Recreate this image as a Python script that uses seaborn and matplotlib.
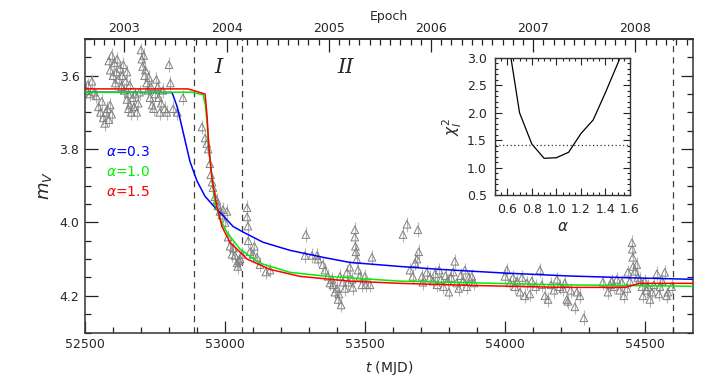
import numpy as np
import pandas as pd
import matplotlib
matplotlib.use('Agg')
import matplotlib.pyplot as plt
import seaborn as sns
from matplotlib.ticker import MultipleLocator, FixedLocator

# ---------------- data ----------------
obs_mjd = [
    52505, 52510, 52518, 52525, 52533, 52540,
    52548, 52555, 52560, 52565, 52570, 52575, 52580, 52585, 52590, 52595,
    52585, 52590, 52595, 52600, 52605, 52608, 52612, 52615, 52620, 52625, 52630, 52633, 52637, 52640, 52645, 52650, 52655, 52660,
    52650, 52655, 52660, 52665, 52670, 52675, 52680, 52685, 52690, 52695,
    52700, 52703, 52706, 52710, 52713, 52716, 52720, 52724, 52728, 52732, 52736, 52740,
    52745, 52750, 52755, 52760, 52763, 52767, 52772, 52778, 52785, 52792, 52800, 52805, 52815, 52830, 52850,
    52918, 52929, 52935, 52940, 52946, 52949, 52954, 52957, 52964, 52971, 52975, 52982, 52989, 52993, 53000, 53007,
    53011, 53018, 53025, 53030, 53036, 53043, 53046, 53050, 53054, 53061, 53079, 53079, 53082, 53083, 53089, 53100,
    53105, 53114, 53125, 53146, 53161,
    53289, 53286, 53311, 53329, 53332, 53350, 53357, 53368, 53375, 53382, 53386, 53393, 53400, 53404, 53407, 53411,
    53415, 53421, 53428, 53436, 53440, 53446, 53454, 53457, 53464, 53464, 53466, 53468, 53471, 53475, 53482, 53489,
    53500, 53503, 53525, 53518,
    53636, 53650, 53661, 53671, 53679, 53686, 53689, 53692, 53704, 53707, 53721, 53732, 53743,
    53750, 53758, 53765, 53772, 53780, 53788, 53795, 53800, 53808, 53815, 53821, 53828, 53835, 53842, 53850, 53857,
    53864, 53871, 53882, 53890,
    54000, 54007, 54018, 54029, 54036, 54043, 54054, 54061, 54071, 54079, 54089, 54096, 54110, 54125, 54132, 54143,
    54154, 54165, 54175, 54186, 54196, 54207, 54214, 54221, 54225, 54235, 54250, 54257, 54268, 54282,
    54350, 54368, 54375, 54382, 54390, 54400, 54410, 54418, 54425, 54436, 54439, 54447, 54454, 54455, 54457, 54458,
    54464, 54471, 54475, 54482, 54489, 54493, 54500, 54507, 54511, 54518, 54525, 54532, 54543, 54550, 54554, 54562,
    54571, 54578, 54582, 54596,
]
obs_mag = [
    3.640, 3.625, 3.650, 3.615, 3.645, 3.655,
    3.685, 3.700, 3.670, 3.715, 3.730, 3.700, 3.690, 3.720, 3.680, 3.705,
    3.560, 3.585, 3.545, 3.600, 3.565, 3.620, 3.590, 3.555, 3.610, 3.580, 3.630, 3.600, 3.570, 3.640, 3.615, 3.590, 3.650, 3.625,
    3.665, 3.690, 3.680, 3.700, 3.660, 3.685, 3.650, 3.700, 3.675, 3.645,
    3.530, 3.555, 3.575, 3.545, 3.600, 3.585, 3.620, 3.640, 3.605, 3.660, 3.630, 3.680,
    3.690, 3.650, 3.610, 3.630, 3.660, 3.700, 3.675, 3.640, 3.690, 3.700, 3.570, 3.620, 3.690, 3.700, 3.660,
    3.740, 3.770, 3.785, 3.800, 3.840, 3.870, 3.890, 3.905, 3.930, 3.940, 3.955, 3.970, 3.980, 3.965, 4.000, 3.970,
    4.040, 4.065, 4.087, 4.070, 4.090, 4.110, 4.120, 4.105, 4.100, 4.087, 3.960, 3.985, 4.010, 4.050, 4.080, 4.087,
    4.065, 4.095, 4.115, 4.135, 4.130,
    4.033, 4.090, 4.090, 4.090, 4.100, 4.115, 4.130, 4.147, 4.165, 4.155, 4.170, 4.190, 4.180, 4.210, 4.195, 4.147,
    4.225, 4.163, 4.180, 4.136, 4.163, 4.122, 4.155, 4.177, 4.020, 4.040, 4.065, 4.080, 4.100, 4.130, 4.147, 4.170,
    4.147, 4.170, 4.095, 4.170,
    4.033, 4.005, 4.130, 4.147, 4.110, 4.100, 4.020, 4.080, 4.147, 4.163, 4.136, 4.150, 4.160,
    4.140, 4.170, 4.130, 4.155, 4.175, 4.145, 4.160, 4.190, 4.150, 4.135, 4.106, 4.165, 4.180, 4.145, 4.160, 4.130,
    4.175, 4.150, 4.147, 4.165,
    4.147, 4.130, 4.165, 4.150, 4.175, 4.160, 4.190, 4.150, 4.200, 4.165, 4.195, 4.160, 4.175, 4.130, 4.170, 4.200,
    4.210, 4.170, 4.185, 4.155, 4.175, 4.180, 4.165, 4.210, 4.215, 4.185, 4.230, 4.190, 4.200, 4.260,
    4.163, 4.190, 4.170, 4.160, 4.175, 4.155, 4.185, 4.163, 4.200, 4.180, 4.136, 4.160, 4.055, 4.073, 4.095, 4.120,
    4.133, 4.115, 4.150, 4.155, 4.175, 4.200, 4.160, 4.185, 4.175, 4.210, 4.190, 4.170, 4.140, 4.195, 4.175, 4.160,
    4.136, 4.200, 4.190, 4.175,
]
mag_err = 0.02

blue_mjd = [52500, 52811, 52829, 52846, 52875, 52900, 52929, 52957, 52989, 53029, 53064, 53136, 53232,
            53350, 53446, 53625, 53768, 54000, 54232, 54450, 54672]
blue_mag = [3.645, 3.646, 3.684, 3.739, 3.834, 3.887, 3.929, 3.953, 3.978, 4.011, 4.026, 4.054, 4.076,
            4.095, 4.109, 4.120, 4.128, 4.138, 4.146, 4.151, 4.155]

green_mjd = [52500, 52880, 52922, 52930, 52936, 52943, 52954, 52964, 52982, 53007, 53054, 53125, 53232,
             53364, 53625, 53900, 54200, 54672]
green_mag = [3.645, 3.645, 3.652, 3.680, 3.728, 3.800, 3.883, 3.946, 3.990, 4.027, 4.073, 4.111, 4.136,
             4.147, 4.160, 4.165, 4.170, 4.174]

red_mjd = [52500, 52868, 52929, 52936, 52943, 52954, 52971, 52989, 53018, 53079, 53161, 53268, 53446,
           53625, 53900, 54200, 54430, 54482, 54672]
red_mag = [3.636, 3.636, 3.650, 3.710, 3.800, 3.883, 3.956, 4.011, 4.054, 4.100, 4.128, 4.147, 4.160,
           4.166, 4.172, 4.177, 4.177, 4.166, 4.166]

model_labels = [r'$\alpha$=0.3', r'$\alpha$=1.0', r'$\alpha$=1.5']
model_colors = ['#0000ff', '#00ee00', '#ff0000']

alpha_vals = [0.60, 0.70, 0.80, 0.90, 1.00, 1.10, 1.20, 1.30, 1.40, 1.50, 1.60]
chi2_vals = [3.43, 2.00, 1.43, 1.17, 1.18, 1.28, 1.62, 1.87, 2.37, 2.90, 3.45]
chi2_limit = 1.41

phase_bounds = [52890, 53060, 54602]
year_ticks = [2003, 2004, 2005, 2006, 2007, 2008]

# ---------------- style ----------------
sns.set_style('ticks')
plt.rcParams['font.family'] = ['DejaVu Sans']
plt.rcParams['mathtext.fontset'] = 'dejavusans'

fig = plt.figure(figsize=(7.06, 3.92), dpi=100)
ax = fig.add_axes([85 / 706, 1 - 332.5 / 392, 608 / 706, 293.5 / 392])

df = pd.DataFrame({'mjd': obs_mjd, 'mag': obs_mag})
ax.errorbar(df['mjd'], df['mag'], yerr=mag_err, fmt='none', ecolor='#b5b5b5',
            elinewidth=0.8, zorder=1)
sns.scatterplot(data=df, x='mjd', y='mag', marker='^', s=30, facecolors='none',
                edgecolor='#808080', linewidth=0.7, ax=ax, zorder=2, legend=False)

for mj, mg, col in [(blue_mjd, blue_mag, model_colors[0]),
                    (green_mjd, green_mag, model_colors[1]),
                    (red_mjd, red_mag, model_colors[2])]:
    sns.lineplot(x=mj, y=mg, color=col, lw=1.1, sort=False, estimator=None, ax=ax, zorder=3)

for b in phase_bounds:
    ax.axvline(b, color='#404040', lw=0.9, ls=(0, (5, 4)), zorder=0)

ax.set_xlim(52500, 54672)
ax.set_ylim(4.3, 3.5)
ax.xaxis.set_major_locator(MultipleLocator(500))
ax.xaxis.set_minor_locator(MultipleLocator(100))
ax.yaxis.set_major_locator(MultipleLocator(0.2))
ax.yaxis.set_minor_locator(MultipleLocator(0.05))
ax.yaxis.set_major_formatter(matplotlib.ticker.FormatStrFormatter('%.1f'))
ax.tick_params(which='both', direction='in', top=False, right=True, labelsize=9,
               color='#222222', width=0.9)
ax.tick_params(which='major', length=9, pad=4)
ax.tick_params(which='minor', length=4.5)
for s in ax.spines.values():
    s.set_linewidth(1.1)
    s.set_color('#333333')

ax.set_xlabel(r'$t$ (MJD)', fontsize=10, labelpad=6)
ax.set_ylabel(r'$m_V$', fontsize=13, labelpad=4)


def mjd2yr(m):
    return 2000.0 + (np.asarray(m) - 51544.5) / 365.25


def yr2mjd(y):
    return 51544.5 + (np.asarray(y) - 2000.0) * 365.25


sec = ax.secondary_xaxis('top', functions=(mjd2yr, yr2mjd))
sec.xaxis.set_major_locator(FixedLocator(year_ticks))
sec.xaxis.set_minor_locator(MultipleLocator(0.1))
sec.tick_params(which='both', direction='in', labelsize=9, color='#222222', width=0.9)
sec.tick_params(which='major', length=9, pad=3)
sec.tick_params(which='minor', length=4.5)
sec.set_xlabel('Epoch', fontsize=9, labelpad=1)
sec.spines['top'].set_linewidth(1.1)

ax.text(52975, 3.578, 'I', fontsize=15, fontstyle='italic', family='DejaVu Serif',
        ha='center', va='center')
ax.text(53430, 3.578, 'II', fontsize=15, fontstyle='italic', family='DejaVu Serif',
        ha='center', va='center')

for i, (lab, col) in enumerate(zip(model_labels, model_colors)):
    ax.text(52575, 3.808 + i * 0.054, lab, color=col, fontsize=10, ha='left', va='center')

# ---------------- inset ----------------
ax2 = fig.add_axes([495 / 706, 1 - 195 / 392, 135 / 706, 137 / 392])
sns.lineplot(x=alpha_vals, y=chi2_vals, color='black', lw=0.9, sort=False, estimator=None, ax=ax2)
ax2.axhline(chi2_limit, color='#333333', lw=0.9, ls=(0, (1, 2)))
ax2.set_xlim(0.5, 1.6)
ax2.set_ylim(0.5, 3.0)
ax2.xaxis.set_major_locator(FixedLocator([0.6, 0.8, 1.0, 1.2, 1.4, 1.6]))
ax2.xaxis.set_minor_locator(MultipleLocator(0.05))
ax2.yaxis.set_major_locator(MultipleLocator(0.5))
ax2.yaxis.set_minor_locator(MultipleLocator(0.1))
ax2.xaxis.set_major_formatter(matplotlib.ticker.FormatStrFormatter('%.1f'))
ax2.yaxis.set_major_formatter(matplotlib.ticker.FormatStrFormatter('%.1f'))
ax2.tick_params(which='both', direction='in', top=True, right=True, labelsize=9,
                color='#222222', width=0.8)
ax2.tick_params(which='major', length=5, pad=6)
ax2.tick_params(which='minor', length=2.5)
for s in ax2.spines.values():
    s.set_linewidth(1.0)
    s.set_color('#333333')
ax2.set_xlabel(r'$\alpha$', fontsize=11, labelpad=2)
ax2.set_ylabel(r'$\chi_I^2$', fontsize=11, labelpad=2)

fig.savefig('out.png', dpi=100)
